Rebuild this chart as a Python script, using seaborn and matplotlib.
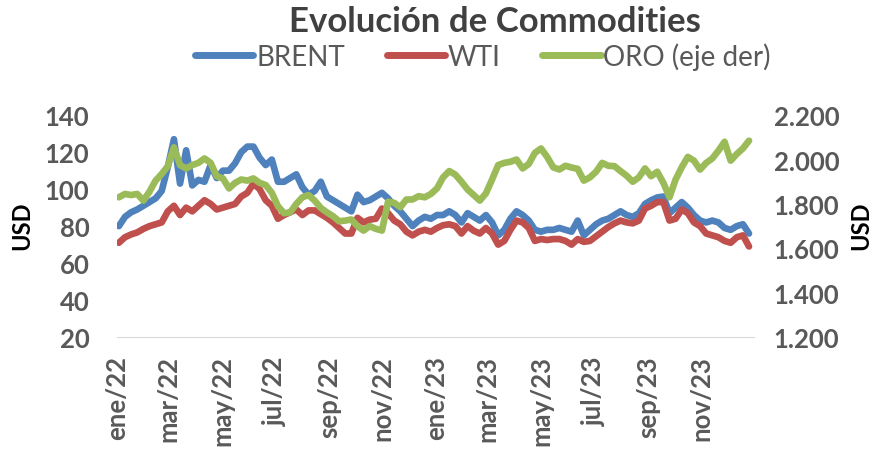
import pandas as pd
import matplotlib.pyplot as plt
import matplotlib.ticker as mticker
import seaborn as sns

# weekly readings (USD), starting first Monday of 2022
brent = [80, 85, 87.5, 89, 91, 93, 95, 99, 112, 127,
         103, 121, 102, 105, 104, 113, 106, 110, 110, 114,
         120, 123, 123, 117, 113, 116, 104, 104, 106, 108,
         101, 97, 99, 104, 96, 94, 92, 90, 88, 97,
         93, 94, 96, 98, 95, 91, 88, 84, 80, 83,
         85, 84, 86, 86, 88, 86, 82, 87, 85, 83,
         86, 82, 75, 78, 84, 88, 86, 83, 78, 77,
         78, 78, 79, 78, 77, 83, 75, 78, 81, 83,
         84, 86, 88, 86, 85, 87, 92, 94, 95.5, 96,
         87, 90, 93, 90, 86, 83, 82, 83, 82, 79,
         78, 80, 81, 76]
wti = [71, 74, 75.5, 76.6, 78.5, 80, 81, 82, 88, 91,
       86, 90, 88, 91, 94, 92, 89, 90, 91, 92,
       96, 98, 103, 100, 94, 91, 84, 86, 87.5, 89,
       86, 88.5, 88.5, 86.5, 84.5, 82, 79, 76, 76, 84.5,
       82, 83.5, 84, 89.5, 87, 83, 81, 77, 75, 77,
       78, 77, 79, 80.5, 81, 80, 76, 80, 77.5, 76,
       79, 76, 70, 72, 78, 83, 82, 79, 72, 73,
       72.5, 73, 73, 72, 70, 73, 71.5, 72, 74.5, 77,
       79.5, 81.5, 83, 82, 81.5, 83, 89.5, 91, 93, 93,
       83, 84, 89, 87, 82, 80, 76, 75, 74, 72,
       71, 74, 75, 69]
oro = [1830, 1845, 1840, 1845, 1815, 1855, 1905, 1935, 1970, 2055,
       1975, 1960, 1975, 1985, 2005, 1985, 1925, 1915, 1870, 1895,
       1910, 1905, 1915, 1895, 1885, 1850, 1790, 1758, 1762, 1800,
       1830, 1840, 1815, 1782, 1762, 1745, 1722, 1725, 1730, 1700,
       1680, 1700, 1688, 1680, 1810, 1805, 1785, 1820, 1820, 1835,
       1830, 1845, 1870, 1920, 1948, 1932, 1900, 1865, 1840, 1815,
       1848, 1910, 1975, 1985, 1990, 2000, 1960, 1980, 2030, 2050,
       2012, 1965, 1955, 1972, 1964, 1958, 1905, 1920, 1945, 1985,
       1972, 1970, 1948, 1927, 1900, 1920, 1960, 1925, 1945, 1895,
       1830, 1910, 1965, 2012, 1995, 1955, 1985, 2005, 2040, 2080,
       1995, 2025, 2050, 2085]
tick_labels = ["ene/22", "mar/22", "may/22", "jul/22", "sep/22", "nov/22",
               "ene/23", "mar/23", "may/23", "jul/23", "sep/23", "nov/23"]

fechas = pd.date_range("2022-01-03", periods=len(brent), freq="7D")
df = pd.DataFrame({"fecha": fechas, "BRENT": brent, "WTI": wti, "ORO": oro})

sns.set_style("white")
plt.rcParams["font.family"] = ["Lato", "DejaVu Sans"]

gris = "#595959"
grosor = 4.8
fig = plt.figure(figsize=(8.74, 4.52), dpi=100)
ax = fig.add_axes([0.134, 0.252, 0.729, 0.491])

sns.lineplot(data=df, x="fecha", y="BRENT", ax=ax, color="#4F81BD", lw=grosor, label="BRENT", legend=False)
sns.lineplot(data=df, x="fecha", y="WTI", ax=ax, color="#C0504D", lw=grosor, label="WTI", legend=False)
ax2 = ax.twinx()
sns.lineplot(data=df, x="fecha", y="ORO", ax=ax2, color="#9BBB59", lw=grosor, label="ORO (eje der)", legend=False)

ax.set_xlim(pd.Timestamp("2022-01-01"), pd.Timestamp("2023-12-31"))
ax.set_ylim(20, 140)
ax2.set_ylim(1200, 2200)
ax.set_yticks(range(20, 141, 20))
ax2.set_yticks(range(1200, 2201, 200))
ax2.yaxis.set_major_formatter(mticker.FuncFormatter(lambda v, p: f"{int(v):,}".replace(",", ".")))

ticks = pd.date_range("2022-01-01", "2023-11-01", freq="2MS")
ax.set_xticks(ticks)
ax.set_xticklabels(tick_labels, rotation=90)

for a in (ax, ax2):
    for s in ("top", "left", "right"):
        a.spines[s].set_visible(False)
    a.spines["bottom"].set_color("#d9d9d9")
    a.set_xlabel("")
    a.set_ylabel("")
ax2.spines["bottom"].set_visible(False)

ax.tick_params(axis="x", length=7, width=1, color="#d9d9d9", pad=6, labelsize=18.5, labelcolor=gris)
ax.tick_params(axis="y", length=0, pad=20, labelsize=18.5, labelcolor=gris)
ax2.tick_params(axis="y", length=0, pad=14, labelsize=18.5, labelcolor=gris)
for lab in ax.get_xticklabels() + ax.get_yticklabels() + ax2.get_yticklabels():
    lab.set_fontweight("bold")

fig.text(22 / 874, 1 - 226 / 452, "USD", rotation=90, ha="center", va="center",
         fontsize=17, fontweight="bold", color="black")
fig.text(861 / 874, 1 - 226 / 452, "USD", rotation=90, ha="center", va="center",
         fontsize=17, fontweight="bold", color="black")

fig.text(495 / 874, 1 - 22 / 452, "Evolución de Commodities", ha="center", va="center",
         fontsize=25, fontweight="bold", color="#404040")

h1, l1 = ax.get_legend_handles_labels()
h2, l2 = ax2.get_legend_handles_labels()
leg = fig.legend(h1 + h2, l1 + l2, loc="center", bbox_to_anchor=(483 / 874, 1 - 57 / 452), ncol=3,
                 frameon=False, fontsize=20, labelcolor=gris, handlelength=2.1, handletextpad=0.1,
                 columnspacing=1.5, borderaxespad=0)
for ln in leg.get_lines():
    ln.set_linewidth(5)

fig.savefig("out.png", dpi=100)
